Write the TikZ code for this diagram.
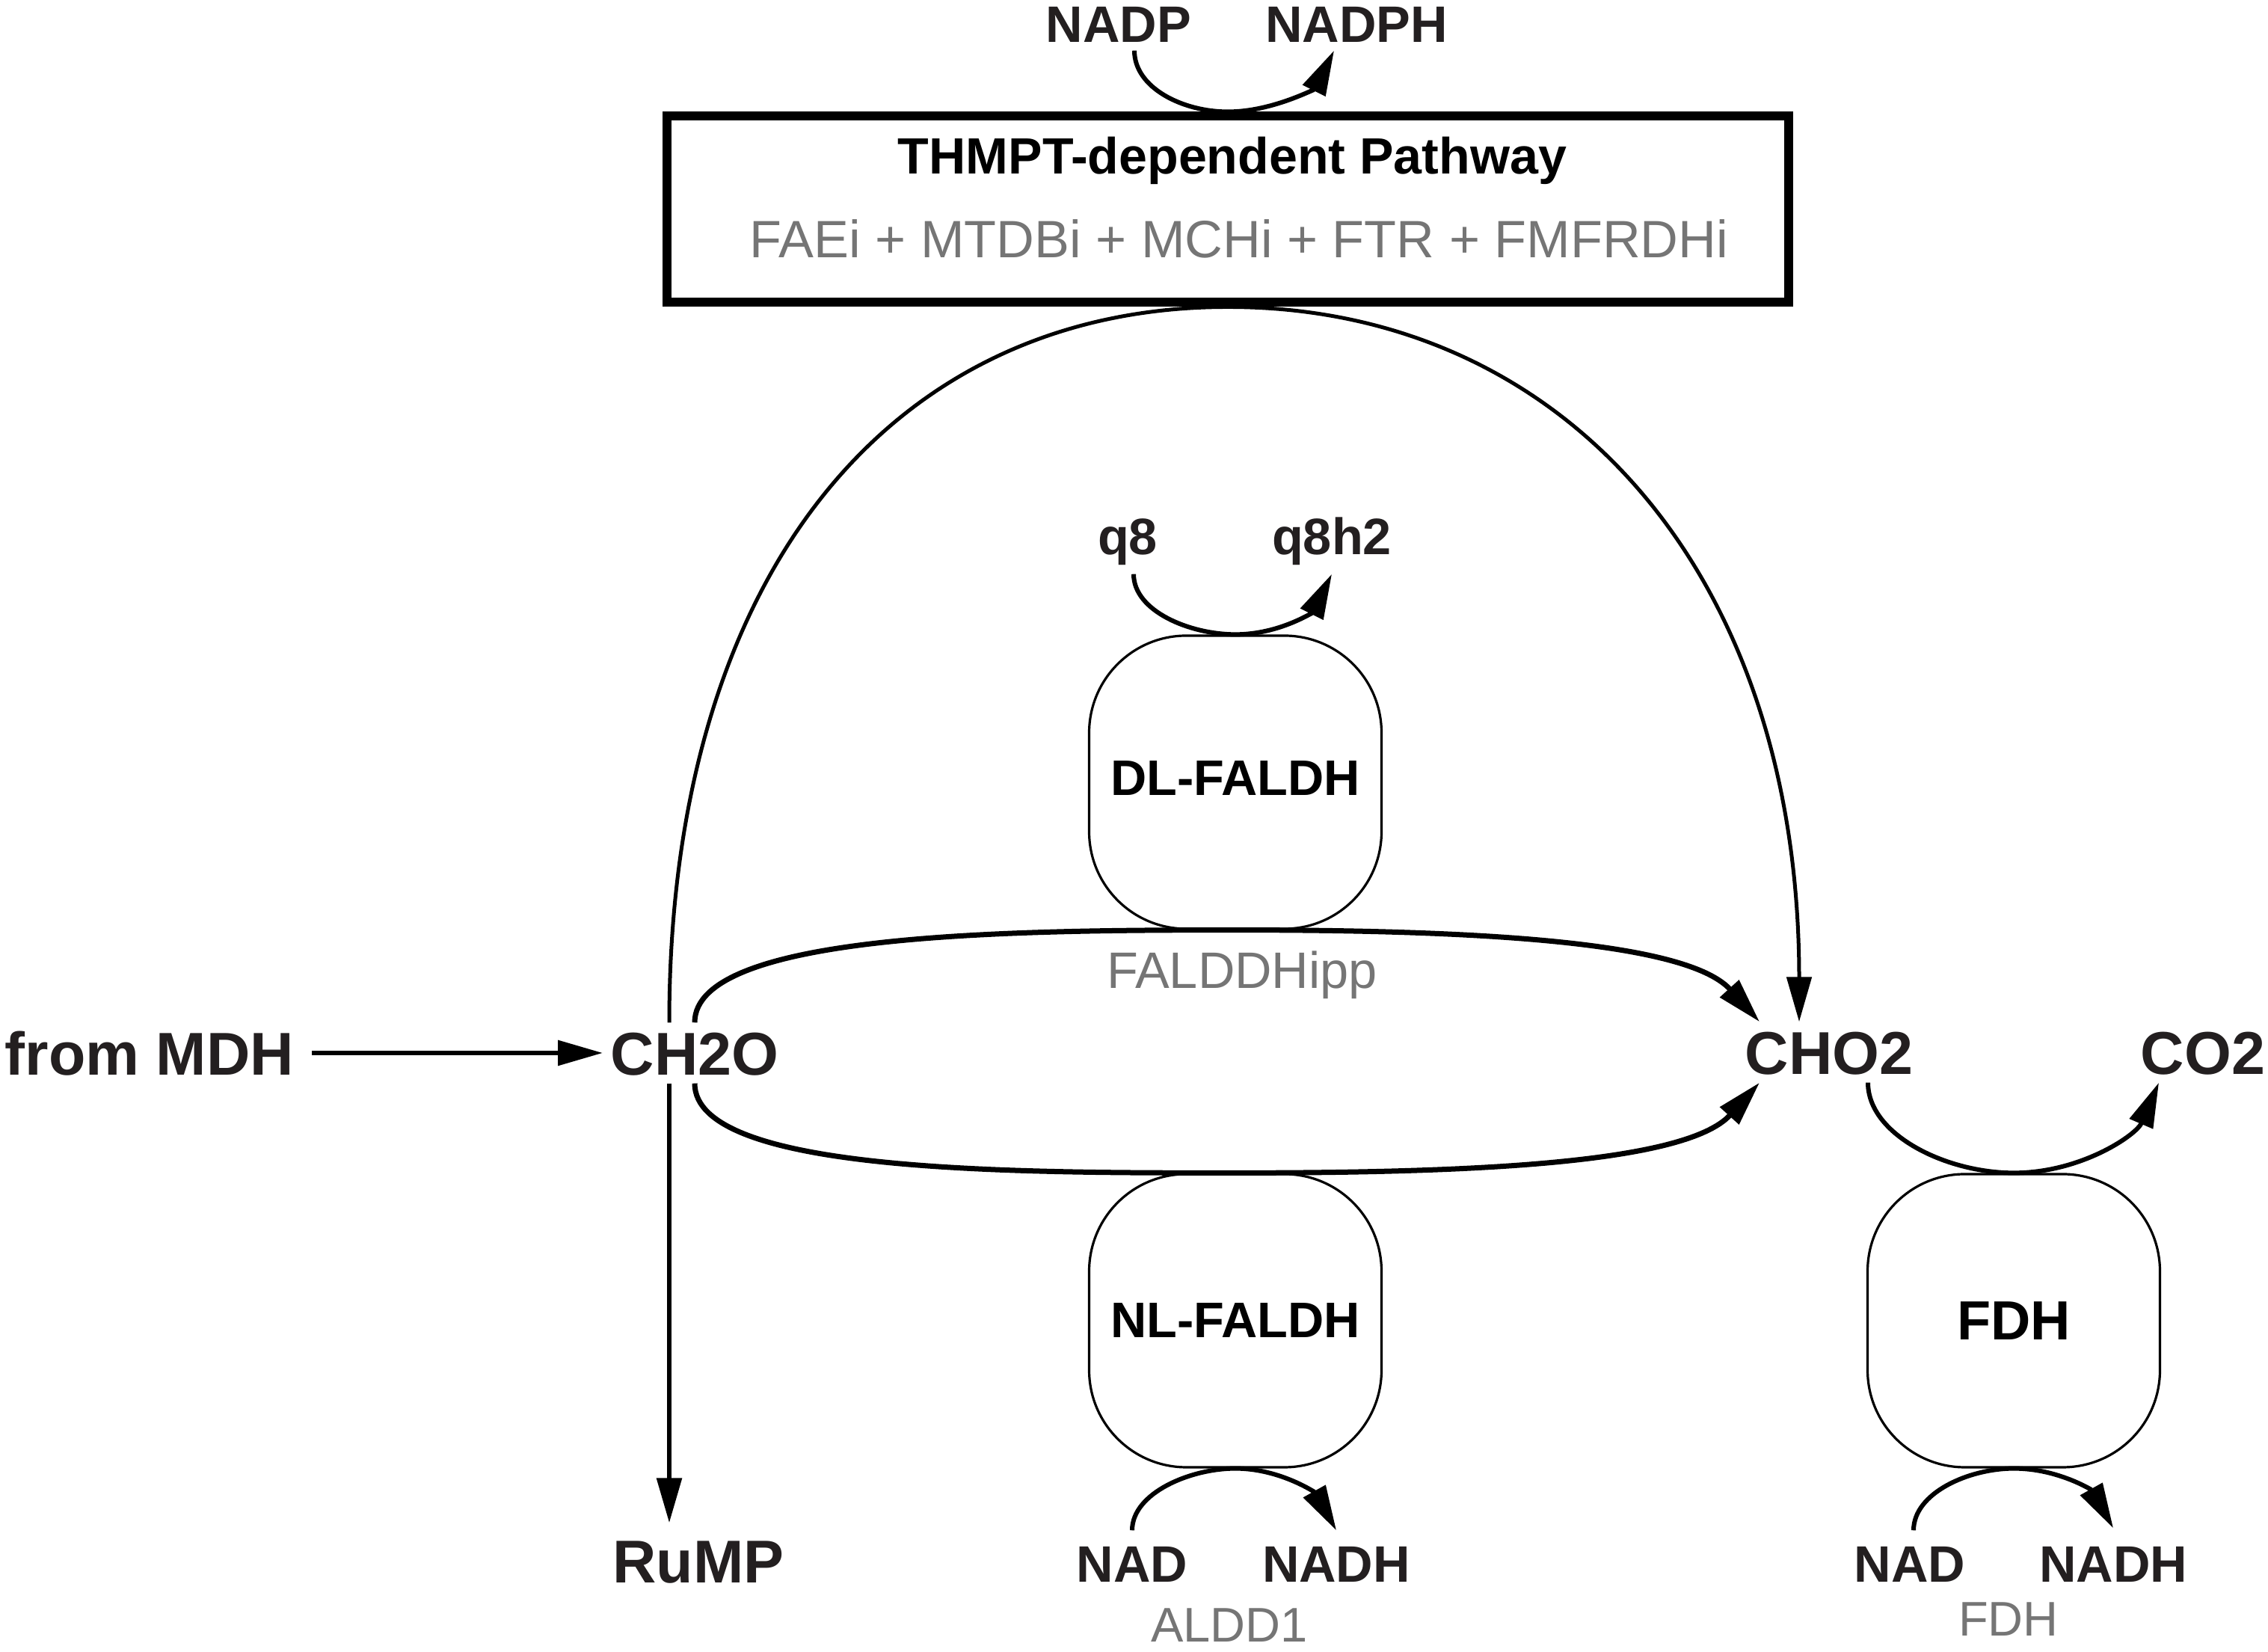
\documentclass[tikz,border=0pt]{standalone}
\usepackage{fontspec}
\setmainfont{Liberation Sans}
\usepackage{tikz}
\usetikzlibrary{arrows.meta, positioning, calc}
\usepackage{xcolor}
\definecolor{ink}{RGB}{35,31,32}
\definecolor{enzgray}{RGB}{117,117,117}

\begin{document}
\begin{tikzpicture}[
  metab/.style={font=\fontsize{23}{27}\selectfont\bfseries, text=ink, text height=0.6cm,
                text depth=0pt, inner sep=0.1cm, anchor=base},
  cofac/.style={font=\fontsize{19.5}{23}\selectfont\bfseries, text=ink, text height=0.5cm,
                text depth=0pt, inner sep=0.1cm, anchor=base},
  enzlabel/.style={font=\fontsize{19.5}{23}\selectfont, text=enzgray, inner sep=0pt, anchor=base},
  enzbox/.style={draw, rounded corners=1.3cm, minimum width=3.91cm, minimum height=3.92cm,
                 line width=0.032cm, font=\fontsize{19}{23}\selectfont\bfseries},
  pathbox/.style={draw, line width=0.12cm, minimum width=15cm, minimum height=2.49cm},
  flow/.style={-{Triangle[length=0.6cm, width=0.33cm]}, line width=0.06cm},
  bypass/.style={flow, line width=0.07cm},
  cofarrow/.style={flow, line width=0.06cm}
]
\useasboundingbox (0,0) rectangle (30.33,22.09);

% metabolites
\node[metab] (frommdh) at (2.00,7.71) {from MDH};
\node[metab] (ch2o) at (9.29,7.71) {CH2O};
\node[metab] (cho2) at (24.46,7.72) {CHO2};
\node[metab] (co2) at (29.46,7.72) {CO2};
\node[metab] (rump) at (9.34,0.92) {RuMP};

% THMPT pathway box
\node[pathbox] (thmpt) at (16.42,19.29) {};
\node[font=\fontsize{19.4}{23}\selectfont\bfseries, anchor=base, inner sep=0pt] (thmptname) at (16.48,19.76) {THMPT-dependent Pathway};
\node[enzlabel, font=\fontsize{20}{24}\selectfont] (thmptenz) at (16.57,18.64) {FAEi + MTDBi + MCHi + FTR + FMFRDHi};

% enzymes
\node[enzbox] (dlfaldh) at (16.52,11.63) {\raisebox{0.1cm}{DL-FALDH}};
\node[enzbox] (nlfaldh) at (16.52,4.43) {NL-FALDH};
\node[enzbox, font=\fontsize{21}{25}\selectfont\bfseries] (fdh) at (26.93,4.43) {FDH};

% cofactors
\node[cofac] (nadp) at (14.96,21.52) {NADP};
\node[cofac] (nadph) at (18.14,21.52) {NADPH};
\node[cofac, text depth=0.15cm] (q8) at (15.08,14.67) {q8};
\node[cofac, text depth=0.15cm] (q8h2) at (17.81,14.67) {q8h2};
\node[cofac] (nad1) at (15.14,0.93) {NAD};
\node[cofac] (nadh1) at (17.87,0.93) {NADH};
\node[cofac] (nad2) at (25.54,0.93) {NAD};
\node[cofac] (nadh2) at (28.26,0.93) {NADH};

% reaction labels
\node[enzlabel] (falddhipp) at (16.61,8.87) {FALDDHipp};
\node[enzlabel, font=\fontsize{18.5}{22}\selectfont] (aldd1) at (16.44,0.13) {ALDD1};
\node[enzlabel, font=\fontsize{18.5}{22}\selectfont] (fdhname) at (26.86,0.21) {FDH};

% main fluxes
\draw[flow, shorten <=0.13cm] (frommdh) -- (ch2o);
\draw[flow, shorten >=0.1cm] ([xshift=-0.34cm]ch2o.south) -- ([xshift=-0.34cm]ch2o.south |- rump.north);
\draw[flow, line width=0.05cm] ([xshift=-0.34cm]ch2o.north) .. controls +(0,6) and +(-4.5,0) .. (thmpt.south)
  .. controls +(4.5,0) and +(0,6) .. ([xshift=-0.4cm]cho2.north);
\draw[bypass] (ch2o.north) .. controls +(0,1.2) and +(-3,0) .. (dlfaldh.south)
  .. controls +(3,0) and +(-1,1.1) .. ([xshift=0.3cm]cho2.north west);
\draw[bypass] (ch2o.south) .. controls +(0,-1.2) and +(-3,0) .. (nlfaldh.north)
  .. controls +(3,0) and +(-1,-1.1) .. ([xshift=0.3cm]cho2.south west);
\draw[cofarrow] ([xshift=0.52cm]cho2.south) .. controls +(0,-0.7) and +(-0.9,0) .. (fdh.north)
  .. controls +(0.9,0) and +(-0.3,-0.7) .. ([xshift=-0.59cm]co2.south);

% cofactor conversions
\draw[cofarrow] ([xshift=0.21cm]nadp.south) .. controls +(0,-0.5) and +(-0.6,0) .. (thmpt.north)
  .. controls +(0.6,0) and +(-0.25,-0.5) .. ([xshift=-0.3cm]nadph.south);
\draw[cofarrow] ([xshift=0.08cm]q8.south) .. controls +(0,-0.5) and +(-0.6,0) .. (dlfaldh.north)
  .. controls +(0.6,0) and +(-0.25,-0.5) .. (q8h2.south);
\draw[cofarrow] ([yshift=0.09cm]nad1.north) .. controls +(0,0.5) and +(-0.6,0) .. (nlfaldh.south)
  .. controls +(0.6,0) and +(-0.28,0.5) .. ([yshift=0.09cm]nadh1.north);
\draw[cofarrow] ([xshift=0.05cm, yshift=0.09cm]nad2.north) .. controls +(0,0.5) and +(-0.6,0) .. (fdh.south)
  .. controls +(0.6,0) and +(-0.28,0.5) .. ([yshift=0.12cm]nadh2.north);
\end{tikzpicture}
\end{document}
